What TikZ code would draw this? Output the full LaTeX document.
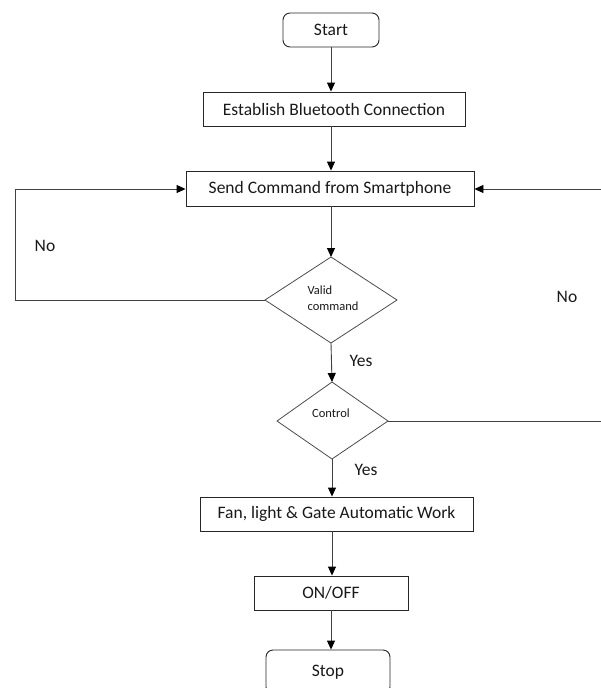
\documentclass[tikz,border=0pt]{standalone}
\usepackage{fontspec}
\setmainfont{Carlito}
\usetikzlibrary{shapes.geometric,arrows.meta}
\begin{document}
\begin{tikzpicture}[x=1pt,y=-1pt,
  box/.style={draw=black!85,line width=0.9pt,minimum height=34pt,inner sep=0pt,font=\fontsize{17.5}{20}\selectfont,text=black!90},
  term/.style={box,rounded corners=7pt},
  dec/.style={draw=black!70,line width=0.8pt},
  lbl/.style={font=\fontsize{17.5}{20}\selectfont,text=black!90},
  small/.style={font=\fontsize{12.5}{16}\selectfont,text=black!90,align=left},
  flow/.style={draw=black!75,line width=0.9pt,-{Triangle[length=9pt,width=8pt,color=black]}},
  plain/.style={draw=black!75,line width=0.9pt}]
\useasboundingbox (0,0) rectangle (601,688);
\clip (0,0) rectangle (601,688);
\node[term,minimum width=96pt] (start) at (331,30) {Start};
\node[box,minimum width=262pt] (est) at (334,109) {Establish Bluetooth Connection};
\node[box,minimum width=288pt,minimum height=35pt] (send) at (330,188.5) {Send Command from Smartphone};
\draw[dec] (331,257) -- (397,300) -- (331,343) -- (265,300) -- cycle;
\coordinate (vtop) at (331,257);
\coordinate (vbot) at (331,343);
\coordinate (vleft) at (265,300);
\node[small] (vtxt) at (333,298) {Valid\\command};
\draw[dec] (332,382) -- (388,421) -- (332,459) -- (277,421) -- cycle;
\coordinate (ctop) at (332,382);
\coordinate (cbot) at (332,459);
\coordinate (cright) at (388,421);
\node[small] (ctxt) at (331,413) {Control};
\node[box,minimum width=273pt] (fan) at (336.5,514) {Fan, light \& Gate Automatic Work};
\node[box,minimum width=154pt] (onoff) at (331,593) {ON/OFF};
\node[term,minimum width=124pt,minimum height=44pt] (stop) at (328,672) {Stop};
\coordinate (lcorner1) at (15,300);
\coordinate (lcorner2) at (15,189);
\coordinate (redge1) at (602,421);
\coordinate (redge2) at (602,189);
\draw[flow] (start) -- (start|-est.north);
\draw[flow] (start|-est.south) -- (start|-send.north);
\draw[flow] (start|-send.south) -- (vtop);
\draw[flow] (vbot) -- (ctop);
\draw[flow] (cbot) -- (cbot|-fan.north);
\draw[flow] (cbot|-fan.south) -- (cbot|-onoff.north);
\draw[flow] (onoff) ++(0,17) -- (stop.north-|onoff);
\draw[flow] (vleft) -- (lcorner1) -- (lcorner2) -- (send.west|-lcorner2);
\draw[plain] (cright) -- (redge1);
\draw[flow] (redge2) -- (send.east|-redge2);
\node[lbl] (no1) at (45,246) {No};
\node[lbl] (no2) at (567,297) {No};
\node[lbl] (yes1) at (361,361) {Yes};
\node[lbl] (yes2) at (366,470) {Yes};
\end{tikzpicture}
\end{document}
